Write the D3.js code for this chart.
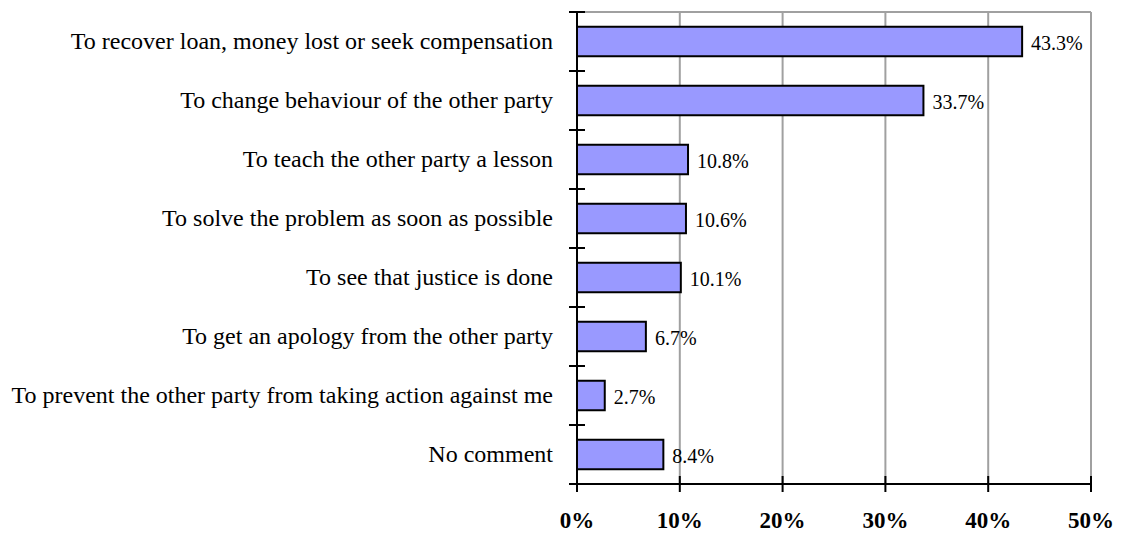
<html>
<script src="https://d3js.org/d3.v7.min.js"></script>
<style>
body {margin:0; background:white;}
text {font-family: "Liberation Serif", "Times New Roman", serif;}
</style>
<body>
<svg width="1123" height="533"></svg>
<script>
var categories = ["To recover loan, money lost or seek compensation",
  "To change behaviour of the other party",
  "To teach the other party a lesson",
  "To solve the problem as soon as possible",
  "To see that justice is done",
  "To get an apology from the other party",
  "To prevent the other party from taking action against me",
  "No comment"];
var values = [43.3, 33.7, 10.8, 10.6, 10.1, 6.7, 2.7, 8.4];
var ticks = [0, 10, 20, 30, 40, 50];

var plotLeft = 577, plotRight = 1091, plotTop = 12, plotBottom = 484;
var svg = d3.select("svg");

var x = d3.scaleLinear().domain([0,50]).range([plotLeft,plotRight]);
var y = d3.scaleBand().domain(categories).range([plotTop,plotBottom]).paddingInner(0.5).paddingOuter(0.25);

//gridlines
svg.append("g").selectAll("line")
.data(ticks.slice(1))
.enter().append("line")
.attr("x1",function(d){return x(d);}).attr("x2",function(d){return x(d);})
.attr("y1",plotTop).attr("y2",plotBottom)
.style("stroke","#a0a0a0").style("stroke-width",2);

svg.append("line").attr("x1",plotLeft).attr("x2",plotRight).attr("y1",plotTop).attr("y2",plotTop)
.style("stroke","#a0a0a0").style("stroke-width",2);

//bars
svg.append("g").selectAll("rect")
.data(values)
.enter().append("rect")
.attr("x",x(0))
.attr("y",function(d,i){return y(categories[i]);})
.attr("width",function(d){return x(d)-x(0);})
.attr("height",y.bandwidth())
.style("fill","#9999ff").style("stroke","black").style("stroke-width",2);

//value labels
svg.append("g").selectAll("text")
.data(values)
.enter().append("text")
.attr("x",function(d){return x(d)+9;})
.attr("y",function(d,i){return y(categories[i])+y.bandwidth()/2;})
.attr("dy","0.42em")
.style("font-size","20px")
.text(function(d){return d.toFixed(1)+"%";});

//category labels
svg.append("g").selectAll("text")
.data(categories)
.enter().append("text")
.attr("x",plotLeft-24)
.attr("y",function(d){return y(d)+y.bandwidth()/2;})
.attr("dy","0.32em")
.attr("text-anchor","end")
.style("font-size","24px")
.text(function(d){return d;});

//y axis
var step = (plotBottom-plotTop)/categories.length;
svg.append("line").attr("x1",plotLeft).attr("x2",plotLeft).attr("y1",plotTop).attr("y2",plotBottom+8)
.style("stroke","black").style("stroke-width",2);
svg.append("g").selectAll("line")
.data(d3.range(categories.length))
.enter().append("line")
.attr("x1",plotLeft-8).attr("x2",plotLeft+8)
.attr("y1",function(i){return plotTop+i*step;}).attr("y2",function(i){return plotTop+i*step;})
.style("stroke","black").style("stroke-width",2);

//x axis
svg.append("line").attr("x1",plotLeft-8).attr("x2",plotRight).attr("y1",plotBottom).attr("y2",plotBottom)
.style("stroke","black").style("stroke-width",2);
svg.append("g").selectAll("line")
.data(ticks)
.enter().append("line")
.attr("x1",function(d){return x(d);}).attr("x2",function(d){return x(d);})
.attr("y1",plotBottom-8).attr("y2",plotBottom+8)
.style("stroke","black").style("stroke-width",2);
svg.append("g").selectAll("text")
.data(ticks)
.enter().append("text")
.attr("x",function(d){return x(d);})
.attr("y",528)
.attr("text-anchor","middle")
.style("font-size","23px").style("font-weight","bold")
.text(function(d){return d+"%";});
</script>
</body>
</html>
